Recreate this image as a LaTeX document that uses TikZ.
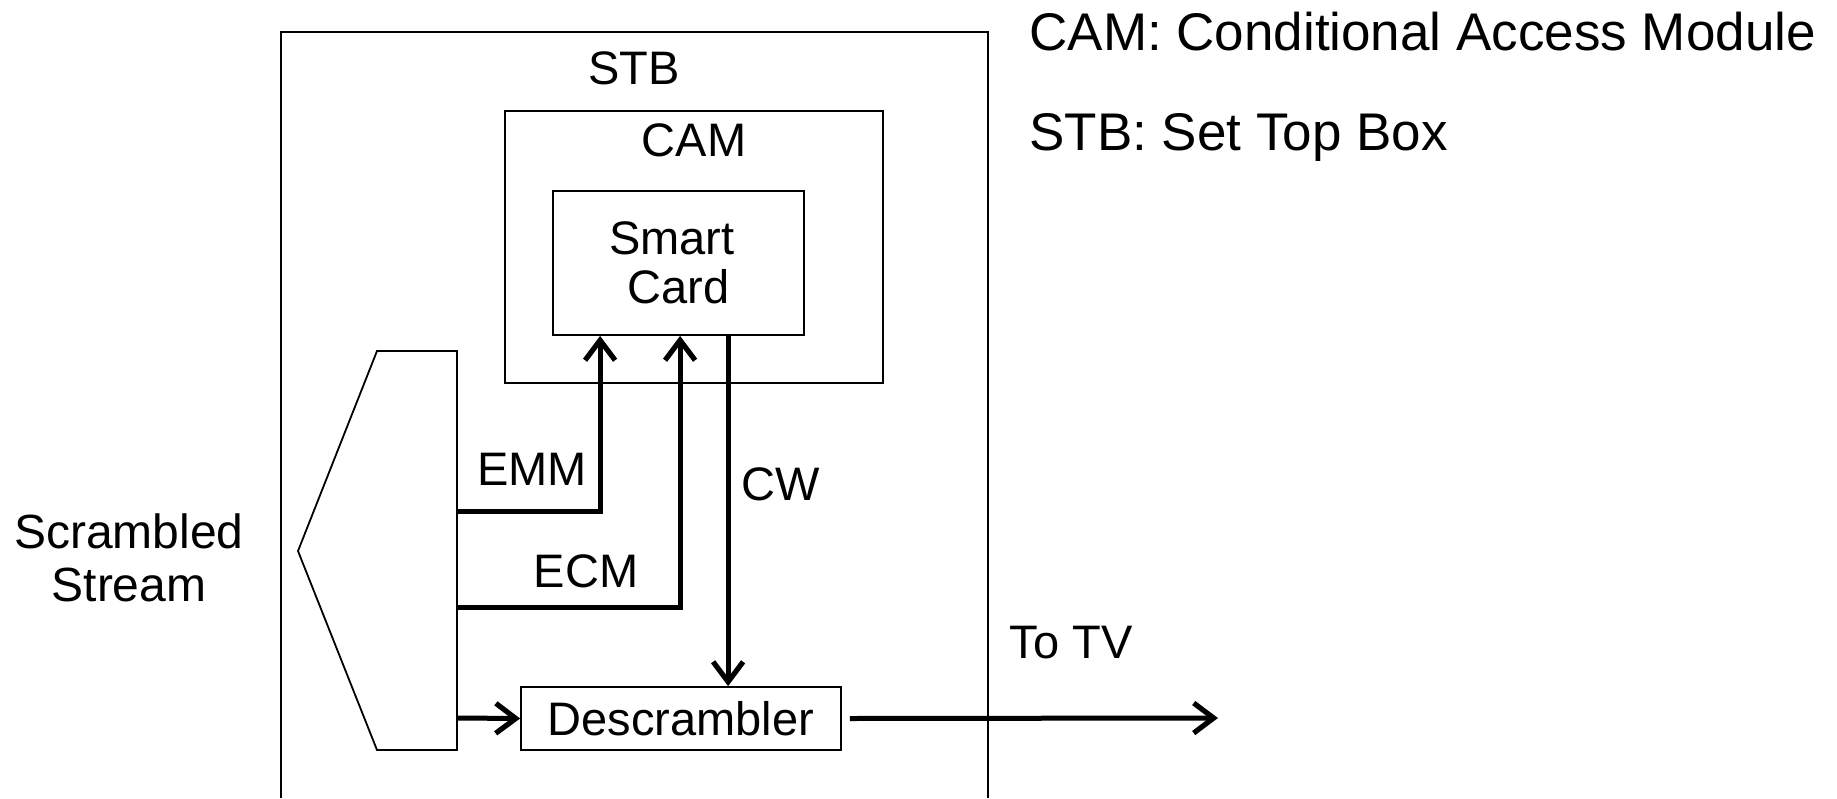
\documentclass[tikz,border=0pt]{standalone}
\usepackage{fontspec}
\setmainfont{Liberation Sans}
\usetikzlibrary{arrows.meta,positioning}

\begin{document}
\begin{tikzpicture}[
  x=0.5pt, y=-0.5pt,
  every node/.style={font=\fontsize{23.5}{24.5}\selectfont, inner sep=0pt},
  blk/.style={draw, line width=0.9pt, align=center},
  lbl/.style={align=center},
  arr/.style={-{Straight Barb[length=10pt,width=15pt,line width=2.6pt]}, line width=2.5pt},
  legend/.style={anchor=base west, font=\fontsize{26.5}{28}\selectfont}
]
\useasboundingbox (0,0) rectangle (1837,798);

%% Outer box (open at the bottom)
\draw[line width=0.9pt] (281,798) -- (281,32) -- (988,32) -- (988,798);
\node (stb) at (634,68) {STB};

%% Nodes
\node[blk, minimum width=189pt, minimum height=136pt] (cam)  at (694,247) {};
\node[below=6.5pt of cam.north]                          (camlbl) {CAM};
\node[blk, minimum width=125.5pt, minimum height=72pt]   (card) at (678.5,263) {Smart\hspace*{6.5pt}\\Card};
\node[blk, minimum width=160pt, minimum height=31.5pt]   (desc) at (681,718.5) {Descrambler};

%% Demultiplexer
\draw[line width=0.9pt] (377,351) -- (457,351) -- (457,750) -- (377,750) -- (298,551) -- cycle;
\coordinate (emm) at (457,511);
\coordinate (ecm) at (457,607);
\coordinate (ds)  at (457,718);
\coordinate (cw)  at ([xshift=88pt]card.south west);
\coordinate (tv)  at (1218,718);

%% Arrows
\draw[arr] (emm) -| ([xshift=24pt]card.south west);
\draw[arr] (ecm) -| ([xshift=64pt]card.south west);
\draw[arr] (cw) -- (cw |- desc.north);
\draw[arr] (ds) -- (desc.west);
\draw[arr] ([xshift=4pt]desc.east) -- (tv);

%% Labels
\node (emmlbl) at (532,469) {EMM};
\node (ecmlbl) at (586,571) {ECM};
\node (cwlbl)  at (781,484) {CW};
\node (tvlbl)  at (1071,643) {To TV};
\node[lbl, font=\fontsize{24}{26.5}\selectfont] (inlbl) at (129,558) {Scrambled\\Stream};

%% Legend
\node[legend] (lgcam) at (1029,50)  {CAM: Conditional Access Module};
\node[legend] (lgstb) at (1029,150) {STB: Set Top Box};
\end{tikzpicture}
\end{document}
